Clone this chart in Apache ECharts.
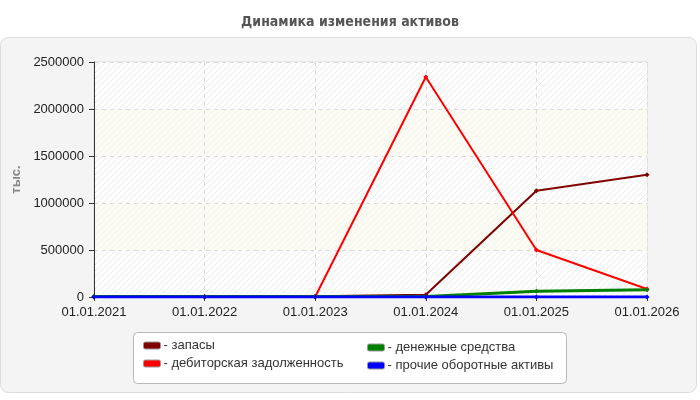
<!DOCTYPE html>
<html>
<head>
    <meta charset="UTF-8">
    <title>Динамика изменения активов</title>
    <script src="https://cdn.jsdelivr.net/npm/echarts@6/dist/echarts.min.js"></script>
    <style>
        html, body { margin: 0; padding: 0; background: #fff; }
        #chart { width: 700px; height: 400px; }
    </style>
</head>
<body>
<div id="chart"></div>
<script>
    const dates = ['01.01.2021', '01.01.2022', '01.01.2023', '01.01.2024', '01.01.2025', '01.01.2026']
    const zapasy = [3000, 3000, 8000, 25000, 1130000, 1300000]
    const debitorka = [2000, 2000, 2000, 2340000, 500000, 85000]
    const dengi = [4000, 4000, 4000, 6000, 62000, 78000]
    const prochie = [1000, 1000, 1000, 1000, 1000, 1000]
    const yTicks = [0, 500000, 1000000, 1500000, 2000000, 2500000]

    // hatched fill for the plot bands
    function hatch(bg, fg){
        let c = document.createElement('canvas')
        c.width = 6; c.height = 6
        let ctx = c.getContext('2d')
        ctx.fillStyle = bg
        ctx.fillRect(0, 0, 6, 6)
        ctx.strokeStyle = fg
        ctx.lineWidth = 1
        ctx.beginPath()
        ctx.moveTo(-1, 7); ctx.lineTo(7, -1)
        ctx.moveTo(-1, 1); ctx.lineTo(1, -1)
        ctx.moveTo(5, 7); ctx.lineTo(7, 5)
        ctx.stroke()
        return {image: c, repeat: 'repeat'}
    }

    const chart = echarts.init(document.getElementById('chart'), null, {renderer: 'canvas'})
    const line = (name, data, color, width) => ({
        name, data, type: 'line',
        symbol: 'diamond', symbolSize: 5,
        lineStyle: {color, width},
        itemStyle: {color},
        animation: false
    })
    const legendBase = {
        orient: 'vertical', padding: 0, itemGap: 5, itemWidth: 17, itemHeight: 7, icon: 'roundRect',
        formatter: '- {name}',
        itemStyle: {borderColor: '#999', borderWidth: 1},
        textStyle: {fontSize: 13, color: '#333', padding: [0, 0, 0, -2]}
    }

    chart.setOption({
        backgroundColor: '#fff',
        textStyle: {fontFamily: 'Liberation Sans, Arial, sans-serif'},
        title: {
            text: 'Динамика изменения активов',
            left: 'center', top: 10,
            textStyle: {fontFamily: 'DejaVu Sans Condensed, sans-serif',
                fontSize: 14, fontWeight: 'bold', color: '#555'}
        },
        graphic: [
            {type: 'rect', z: -10, shape: {x: 0.5, y: 37.5, width: 696, height: 355, r: 8},
                style: {fill: '#f4f4f4', stroke: '#dcdcdc', lineWidth: 1}},
            {type: 'rect', z: -5, shape: {x: 133.5, y: 332.5, width: 433, height: 51, r: 4},
                style: {fill: '#fff', stroke: '#b8b8b8', lineWidth: 1}}
        ],
        grid: {left: 94, right: 53, top: 62, bottom: 103, show: true,
            borderColor: '#dddddd', borderWidth: 1, backgroundColor: 'transparent'},
        legend: [
            Object.assign({data: ['запасы', 'дебиторская задолженность'], left: 143, top: 339}, legendBase),
            Object.assign({data: ['денежные средства', 'прочие оборотные активы'], left: 367, top: 341}, legendBase)
        ],
        xAxis: {
            type: 'category', data: dates, boundaryGap: false,
            axisLine: {lineStyle: {color: '#333', width: 1}},
            axisTick: {show: true, length: 4, alignWithLabel: true, lineStyle: {color: '#333'}},
            axisLabel: {fontSize: 13, color: '#222', margin: 9},
            splitLine: {show: true, lineStyle: {color: '#dddddd', type: [4, 4]}}
        },
        yAxis: {
            type: 'value', min: yTicks[0], max: yTicks[yTicks.length - 1], interval: 500000,
            name: 'тыс.', nameLocation: 'middle', nameGap: 64, nameRotate: 90,
            nameTextStyle: {color: '#888', fontWeight: 'bold', fontSize: 13},
            axisLine: {show: true, lineStyle: {color: '#333', width: 1}},
            axisTick: {show: true, length: 5, lineStyle: {color: '#333'}},
            axisLabel: {fontSize: 13, color: '#222', margin: 10, formatter: v => String(v)},
            splitLine: {show: true, lineStyle: {color: '#dddddd', type: [4, 4]}},
            splitArea: {show: true, areaStyle: {color: [hatch('#ffffff', '#ebebeb'), hatch('#fcfcf4', '#f5f5ee')]}}
        },
        series: [
            line('запасы', zapasy, '#800000', 2),
            line('дебиторская задолженность', debitorka, '#ff0000', 2),
            line('денежные средства', dengi, '#008000', 3),
            line('прочие оборотные активы', prochie, '#0000ff', 3)
        ]
    })
</script>
</body>
</html>
